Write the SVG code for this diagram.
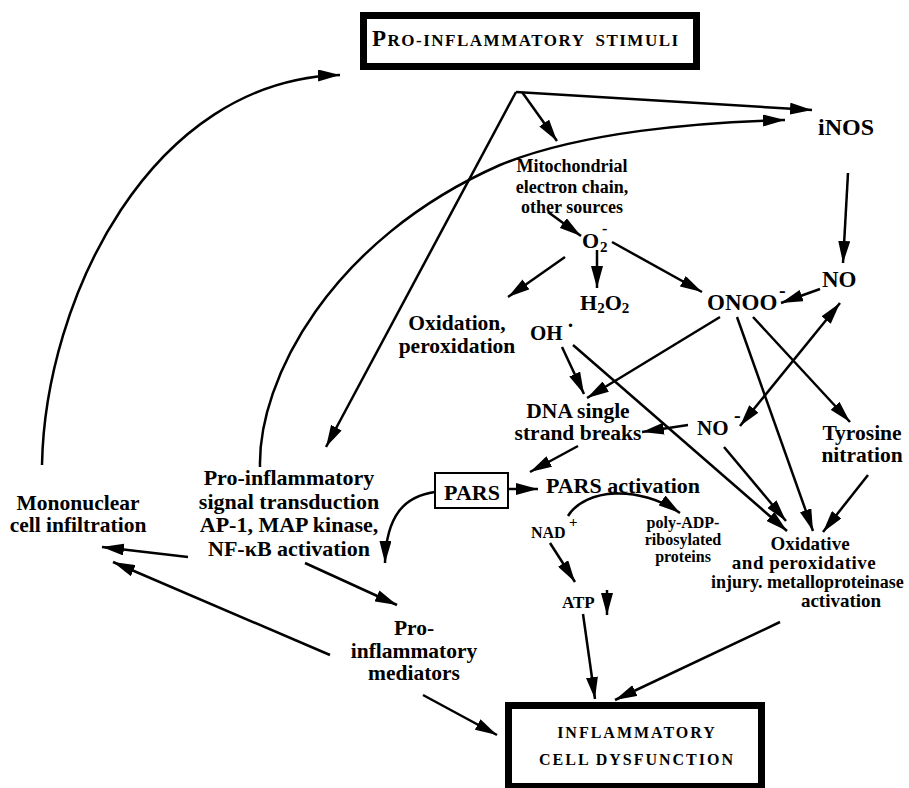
<svg xmlns="http://www.w3.org/2000/svg" width="909" height="788" viewBox="0 0 909 788">
<style>
text { font-family: "Liberation Serif", "Times New Roman", serif; font-weight: bold; fill: #000; }
.m { text-anchor: middle; }
.l { font-size: 21.5px; }
.c { fill: none; stroke: #000; stroke-width: 2.5; marker-end: url(#ah); }
.box { fill: #fff; stroke: #000; stroke-width: 7; }
</style>
<defs>
<marker id="ah" viewBox="0 0 22 12" refX="22" refY="6" markerWidth="22" markerHeight="12" markerUnits="userSpaceOnUse" orient="auto-start-reverse">
<path d="M0,0 L22,6 L0,12 z" fill="#000"/>
</marker>
</defs>
<rect width="909" height="788" fill="#fff"/>

<g id="connectors">
<path class="c" d="M516,92 L812,110"/>
<path class="c" d="M522,92 L557,141"/>
<path class="c" d="M516,92 L326,447"/>
<path class="c" d="M260,467 C258,380 330,240 500,165 C580,132 700,122 785,120"/>
<path class="c" d="M42,465 C45,300 150,80 340,75"/>
<path class="c" d="M848,173 L843,263"/>
<path class="c" d="M820,289 L781,303"/>
<path class="c" d="M548,212 L581,236"/>
<path class="c" d="M565,257 L508,297"/>
<path class="c" d="M597,250 L597,288"/>
<path class="c" d="M612,242 L702,292"/>
<path class="c" d="M720,317 L587,398"/>
<path class="c" d="M562,347 L584,394"/>
<path class="c" d="M573,345 L787,531"/>
<path class="c" d="M753,317 L850,422"/>
<path class="c" d="M737,317 L813,531"/>
<path class="c" d="M724,447 L786,521"/>
<path class="c" d="M868,475 L823,532"/>
<path class="c" d="M740,426 L840,303" marker-start="url(#ah)"/>
<path class="c" d="M688,425 L642,432"/>
<path class="c" d="M578,446 L530,472"/>
<path class="c" d="M508,489 L538,489"/>
<path class="c" d="M435,492 C405,496 386,515 385,563"/>
<path class="c" d="M568,516 C585,488 640,485 680,513" stroke-width="2"/>
<path class="c" d="M550,543 L575,582"/>
<path class="c" d="M607,590 L607,615"/>
<path class="c" d="M583,614 L595,699"/>
<path class="c" d="M780,622 L615,700"/>
<path class="c" d="M423,695 L497,735"/>
<path class="c" d="M305,563 L397,605"/>
<path class="c" d="M188,557 L102,547"/>
<path class="c" d="M330,655 L113,562"/>
</g>

<g id="stimuli">
<rect class="box" x="363.5" y="15.5" width="333" height="51"/>
<text x="372" y="46" font-size="17" letter-spacing="1.5"><tspan font-size="23">P</tspan>RO-INFLAMMATORY<tspan dx="10">STIMULI</tspan></text>
</g>

<g id="inos"><text class="m" x="846" y="135" font-size="24">iNOS</text></g>

<g id="mito">
<text class="m" x="572" y="172" font-size="18">Mitochondrial</text>
<text class="m" x="572" y="193" font-size="18">electron chain,</text>
<text class="m" x="572" y="213" font-size="18">other sources</text>
</g>

<g id="o2">
<text x="582" y="248" font-size="22">O</text>
<text x="600" y="252" font-size="15">2</text>
<text x="602" y="234" font-size="16">-</text>
</g>

<g id="h2o2">
<text x="580" y="310" font-size="22">H<tspan font-size="15" dy="3">2</tspan><tspan dy="-3">O</tspan><tspan font-size="15" dy="3">2</tspan></text>
</g>

<g id="onoo">
<text x="707" y="310" font-size="23">ONOO</text>
<text x="779" y="297" font-size="20">-</text>
</g>

<g id="no"><text x="822" y="287" font-size="23">NO</text></g>

<g id="oxidation">
<text class="m l" x="457" y="330">Oxidation,</text>
<text class="m l" x="457" y="353">peroxidation</text>
</g>

<g id="oh">
<text x="530" y="340" font-size="21">OH</text>
<text x="567" y="332" font-size="21">·</text>
</g>

<g id="dna">
<text class="m l" x="578" y="418">DNA single</text>
<text class="m l" x="578" y="440">strand breaks</text>
</g>

<g id="nominus">
<text x="697" y="435" font-size="21">NO</text>
<text x="734" y="422" font-size="20">-</text>
</g>

<g id="tyrosine">
<text class="m l" x="862" y="440">Tyrosine</text>
<text class="m l" x="862" y="462">nitration</text>
</g>

<g id="mononuclear">
<text class="m l" x="78" y="510">Mononuclear</text>
<text class="m l" x="78" y="532">cell infiltration</text>
</g>

<g id="signal">
<text class="m" x="289" y="485" font-size="22">Pro-inflammatory</text>
<text class="m" x="289" y="509" font-size="22">signal transduction</text>
<text class="m" x="289" y="532" font-size="22">AP-1, MAP kinase,</text>
<text class="m" x="289" y="556" font-size="22">NF-κB activation</text>
</g>

<g id="pars">
<rect x="435" y="473" width="73" height="35" fill="#fff" stroke="#000" stroke-width="2"/>
<text class="m" x="472" y="500" font-size="22">PARS</text>
</g>

<g id="parsact"><text class="m" x="623" y="493" font-size="22">PARS activation</text></g>

<g id="nad">
<text x="531" y="538" font-size="16">NAD</text>
<text x="569" y="527" font-size="15">+</text>
</g>

<g id="polyadp">
<text class="m" x="683" y="528" font-size="16">poly-ADP-</text>
<text class="m" x="683" y="545" font-size="16">ribosylated</text>
<text class="m" x="683" y="562" font-size="16">proteins</text>
</g>

<g id="atp"><text x="562" y="608" font-size="17">ATP</text></g>

<g id="oxidative">
<text class="m" x="810" y="550" font-size="19">Oxidative</text>
<text class="m" x="804" y="569" font-size="19" letter-spacing="0.5">and peroxidative</text>
<text x="711" y="588" font-size="18">injury. metalloproteinase</text>
<text class="m" x="841" y="607" font-size="19">activation</text>
</g>

<g id="mediators">
<text class="m l" x="414" y="635">Pro-</text>
<text class="m l" x="414" y="658">inflammatory</text>
<text class="m l" x="414" y="680">mediators</text>
</g>

<g id="dysfunction">
<rect class="box" x="508.5" y="705.5" width="253" height="81"/>
<text class="m" x="637" y="738" font-size="16" letter-spacing="2">INFLAMMATORY</text>
<text class="m" x="637" y="765" font-size="16" letter-spacing="2">CELL  DYSFUNCTION</text>
</g>
</svg>
